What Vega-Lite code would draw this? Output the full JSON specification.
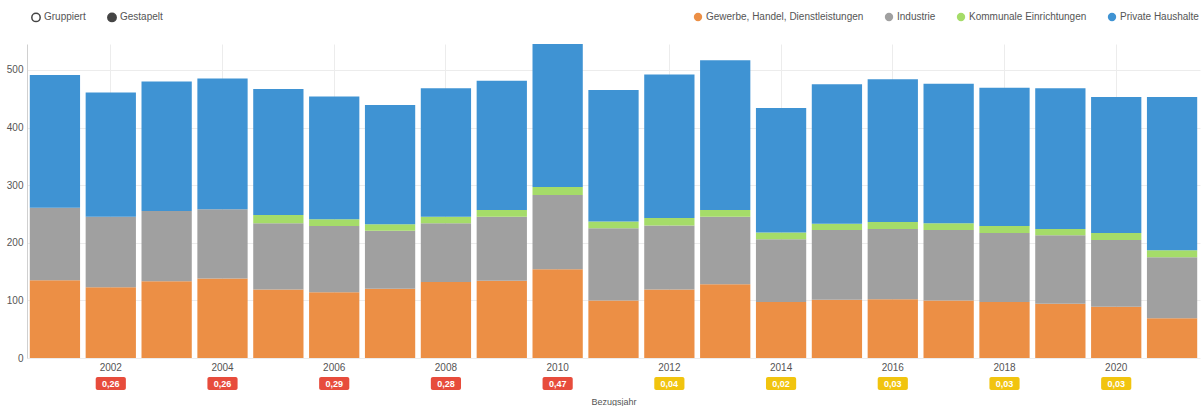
{
  "$schema": "https://vega.github.io/schema/vega-lite/v6.json",
  "width": 1203,
  "height": 406,
  "autosize": {"type": "fit", "contains": "padding"},
  "padding": {"top": 44, "bottom": 0, "left": 6, "right": 3},
  "background": "#ffffff",
  "config": {
    "font": "Liberation Sans",
    "view": {"stroke": null},
    "axis": {"labelFont": "Liberation Sans", "titleFont": "Liberation Sans", "labelColor": "#555555", "titleColor": "#555555"},
    "legend": {"labelFont": "Liberation Sans"}
  },
  "datasets": {
    "verbrauch": [
      {"jahr": 2001, "sektor": "Gewerbe, Handel, Dienstleistungen", "wert": 135},
      {"jahr": 2001, "sektor": "Industrie", "wert": 126},
      {"jahr": 2001, "sektor": "Private Haushalte", "wert": 230},
      {"jahr": 2002, "sektor": "Gewerbe, Handel, Dienstleistungen", "wert": 123},
      {"jahr": 2002, "sektor": "Industrie", "wert": 122},
      {"jahr": 2002, "sektor": "Private Haushalte", "wert": 216},
      {"jahr": 2003, "sektor": "Gewerbe, Handel, Dienstleistungen", "wert": 133},
      {"jahr": 2003, "sektor": "Industrie", "wert": 122},
      {"jahr": 2003, "sektor": "Private Haushalte", "wert": 225},
      {"jahr": 2004, "sektor": "Gewerbe, Handel, Dienstleistungen", "wert": 138},
      {"jahr": 2004, "sektor": "Industrie", "wert": 120},
      {"jahr": 2004, "sektor": "Private Haushalte", "wert": 227},
      {"jahr": 2005, "sektor": "Gewerbe, Handel, Dienstleistungen", "wert": 119},
      {"jahr": 2005, "sektor": "Industrie", "wert": 115},
      {"jahr": 2005, "sektor": "Kommunale Einrichtungen", "wert": 14},
      {"jahr": 2005, "sektor": "Private Haushalte", "wert": 219},
      {"jahr": 2006, "sektor": "Gewerbe, Handel, Dienstleistungen", "wert": 114},
      {"jahr": 2006, "sektor": "Industrie", "wert": 115},
      {"jahr": 2006, "sektor": "Kommunale Einrichtungen", "wert": 12},
      {"jahr": 2006, "sektor": "Private Haushalte", "wert": 213},
      {"jahr": 2007, "sektor": "Gewerbe, Handel, Dienstleistungen", "wert": 120},
      {"jahr": 2007, "sektor": "Industrie", "wert": 101},
      {"jahr": 2007, "sektor": "Kommunale Einrichtungen", "wert": 11},
      {"jahr": 2007, "sektor": "Private Haushalte", "wert": 207},
      {"jahr": 2008, "sektor": "Gewerbe, Handel, Dienstleistungen", "wert": 132},
      {"jahr": 2008, "sektor": "Industrie", "wert": 102},
      {"jahr": 2008, "sektor": "Kommunale Einrichtungen", "wert": 11},
      {"jahr": 2008, "sektor": "Private Haushalte", "wert": 223},
      {"jahr": 2009, "sektor": "Gewerbe, Handel, Dienstleistungen", "wert": 134},
      {"jahr": 2009, "sektor": "Industrie", "wert": 111},
      {"jahr": 2009, "sektor": "Kommunale Einrichtungen", "wert": 12},
      {"jahr": 2009, "sektor": "Private Haushalte", "wert": 224},
      {"jahr": 2010, "sektor": "Gewerbe, Handel, Dienstleistungen", "wert": 154},
      {"jahr": 2010, "sektor": "Industrie", "wert": 129},
      {"jahr": 2010, "sektor": "Kommunale Einrichtungen", "wert": 14},
      {"jahr": 2010, "sektor": "Private Haushalte", "wert": 248},
      {"jahr": 2011, "sektor": "Gewerbe, Handel, Dienstleistungen", "wert": 100},
      {"jahr": 2011, "sektor": "Industrie", "wert": 125},
      {"jahr": 2011, "sektor": "Kommunale Einrichtungen", "wert": 12},
      {"jahr": 2011, "sektor": "Private Haushalte", "wert": 228},
      {"jahr": 2012, "sektor": "Gewerbe, Handel, Dienstleistungen", "wert": 119},
      {"jahr": 2012, "sektor": "Industrie", "wert": 111},
      {"jahr": 2012, "sektor": "Kommunale Einrichtungen", "wert": 13},
      {"jahr": 2012, "sektor": "Private Haushalte", "wert": 249},
      {"jahr": 2013, "sektor": "Gewerbe, Handel, Dienstleistungen", "wert": 128},
      {"jahr": 2013, "sektor": "Industrie", "wert": 117},
      {"jahr": 2013, "sektor": "Kommunale Einrichtungen", "wert": 12},
      {"jahr": 2013, "sektor": "Private Haushalte", "wert": 260},
      {"jahr": 2014, "sektor": "Gewerbe, Handel, Dienstleistungen", "wert": 97},
      {"jahr": 2014, "sektor": "Industrie", "wert": 109},
      {"jahr": 2014, "sektor": "Kommunale Einrichtungen", "wert": 12},
      {"jahr": 2014, "sektor": "Private Haushalte", "wert": 216},
      {"jahr": 2015, "sektor": "Gewerbe, Handel, Dienstleistungen", "wert": 101},
      {"jahr": 2015, "sektor": "Industrie", "wert": 121},
      {"jahr": 2015, "sektor": "Kommunale Einrichtungen", "wert": 11},
      {"jahr": 2015, "sektor": "Private Haushalte", "wert": 242},
      {"jahr": 2016, "sektor": "Gewerbe, Handel, Dienstleistungen", "wert": 102},
      {"jahr": 2016, "sektor": "Industrie", "wert": 122},
      {"jahr": 2016, "sektor": "Kommunale Einrichtungen", "wert": 12},
      {"jahr": 2016, "sektor": "Private Haushalte", "wert": 248},
      {"jahr": 2017, "sektor": "Gewerbe, Handel, Dienstleistungen", "wert": 100},
      {"jahr": 2017, "sektor": "Industrie", "wert": 122},
      {"jahr": 2017, "sektor": "Kommunale Einrichtungen", "wert": 12},
      {"jahr": 2017, "sektor": "Private Haushalte", "wert": 242},
      {"jahr": 2018, "sektor": "Gewerbe, Handel, Dienstleistungen", "wert": 97},
      {"jahr": 2018, "sektor": "Industrie", "wert": 120},
      {"jahr": 2018, "sektor": "Kommunale Einrichtungen", "wert": 12},
      {"jahr": 2018, "sektor": "Private Haushalte", "wert": 240},
      {"jahr": 2019, "sektor": "Gewerbe, Handel, Dienstleistungen", "wert": 94},
      {"jahr": 2019, "sektor": "Industrie", "wert": 119},
      {"jahr": 2019, "sektor": "Kommunale Einrichtungen", "wert": 11},
      {"jahr": 2019, "sektor": "Private Haushalte", "wert": 244},
      {"jahr": 2020, "sektor": "Gewerbe, Handel, Dienstleistungen", "wert": 89},
      {"jahr": 2020, "sektor": "Industrie", "wert": 116},
      {"jahr": 2020, "sektor": "Kommunale Einrichtungen", "wert": 12},
      {"jahr": 2020, "sektor": "Private Haushalte", "wert": 236},
      {"jahr": 2021, "sektor": "Gewerbe, Handel, Dienstleistungen", "wert": 69},
      {"jahr": 2021, "sektor": "Industrie", "wert": 106},
      {"jahr": 2021, "sektor": "Kommunale Einrichtungen", "wert": 12},
      {"jahr": 2021, "sektor": "Private Haushalte", "wert": 266}
    ],
    "kennwerte": [
      {"jahr": 2002, "wert": 0.26, "label": "0,26"},
      {"jahr": 2004, "wert": 0.26, "label": "0,26"},
      {"jahr": 2006, "wert": 0.29, "label": "0,29"},
      {"jahr": 2008, "wert": 0.28, "label": "0,28"},
      {"jahr": 2010, "wert": 0.47, "label": "0,47"},
      {"jahr": 2012, "wert": 0.04, "label": "0,04"},
      {"jahr": 2014, "wert": 0.02, "label": "0,02"},
      {"jahr": 2016, "wert": 0.03, "label": "0,03"},
      {"jahr": 2018, "wert": 0.03, "label": "0,03"},
      {"jahr": 2020, "wert": 0.03, "label": "0,03"}
    ],
    "modus": [
      {"modus": "Gruppiert"},
      {"modus": "Gestapelt"}
    ]
  },
  "layer": [
    {
      "data": {"name": "verbrauch"},
      "mark": {"type": "bar"},
      "encoding": {
        "x": {
          "field": "jahr",
          "type": "ordinal",
          "scale": {"paddingInner": 0.1, "paddingOuter": 0.05},
          "axis": {
            "values": [2002, 2004, 2006, 2008, 2010, 2012, 2014, 2016, 2018, 2020],
            "labelAngle": 0,
            "labelFontSize": 10,
            "labelPadding": 4,
            "ticks": false,
            "domain": false,
            "grid": true,
            "gridColor": "#ececec",
            "bandPosition": 0.5,
            "title": "Bezugsjahr",
            "titleFontSize": 9,
            "titleFontWeight": "normal",
            "titlePadding": 25
          }
        },
        "y": {
          "field": "wert",
          "type": "quantitative",
          "stack": "zero",
          "scale": {"nice": false},
          "axis": {
            "values": [0, 50, 100, 150, 200, 250, 300, 350, 400, 450, 500],
            "title": null,
            "labelFontSize": 10,
            "labelPadding": 4,
            "ticks": false,
            "domain": true,
            "domainColor": "#d0d0d0",
            "grid": true,
            "gridColor": "#ececec"
          }
        },
        "color": {
          "field": "sektor",
          "type": "nominal",
          "scale": {
            "domain": ["Gewerbe, Handel, Dienstleistungen", "Industrie", "Kommunale Einrichtungen", "Private Haushalte"],
            "range": ["#ec8f45", "#a0a0a0", "#a5dc69", "#3f93d3"]
          },
          "legend": {
            "title": null,
            "orient": "none",
            "legendX": 666,
            "legendY": -32,
            "direction": "horizontal",
            "columns": 4,
            "columnPadding": 20,
            "symbolType": "circle",
            "symbolSize": 70,
            "symbolOpacity": 1,
            "labelFontSize": 10,
            "labelColor": "#555555",
            "labelOffset": 3
          }
        },
        "order": {"field": "sektor", "sort": "ascending"}
      }
    },
    {
      "data": {"name": "kennwerte"},
      "mark": {"type": "bar", "width": {"band": 0.6}, "yOffset": 19, "y2Offset": 32, "cornerRadius": 2},
      "encoding": {
        "x": {"field": "jahr", "type": "ordinal"},
        "y": {"datum": 0, "type": "quantitative"},
        "y2": {"datum": 0},
        "fill": {
          "condition": {"test": "datum.wert > 0.1", "value": "#e74c3c"},
          "value": "#f1c40f"
        }
      }
    },
    {
      "data": {"name": "kennwerte"},
      "mark": {"type": "text", "yOffset": 25.5, "baseline": "middle", "align": "center", "fontSize": 9, "fontWeight": "bold", "color": "#ffffff"},
      "encoding": {
        "x": {"field": "jahr", "type": "ordinal"},
        "y": {"datum": 0, "type": "quantitative"},
        "text": {"field": "label", "type": "nominal"}
      }
    },
    {
      "data": {"name": "modus"},
      "mark": {"type": "point", "filled": true, "opacity": 0},
      "encoding": {
        "fill": {
          "field": "modus",
          "type": "nominal",
          "scale": {"domain": ["Gruppiert", "Gestapelt"], "range": ["#ffffff", "#444444"]},
          "legend": {
            "title": null,
            "orient": "none",
            "legendX": 4,
            "legendY": -32,
            "direction": "horizontal",
            "columns": 2,
            "columnPadding": 18,
            "symbolType": "circle",
            "symbolSize": 70,
            "symbolOpacity": 1,
            "symbolStrokeColor": "#444444",
            "symbolStrokeWidth": 1.5,
            "labelFontSize": 10,
            "labelColor": "#555555",
            "labelOffset": 3
          }
        }
      }
    }
  ]
}
